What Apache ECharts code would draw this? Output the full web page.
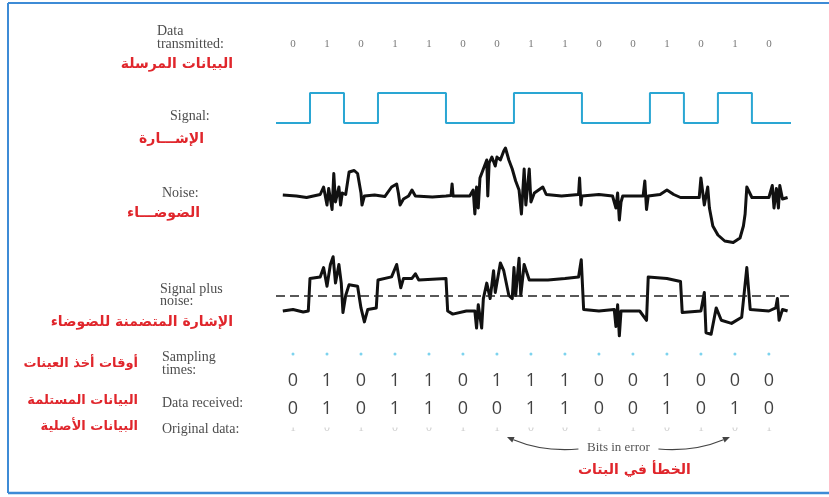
<!DOCTYPE html>
<html>
<head>
<meta charset="utf-8">
<script src="https://cdn.jsdelivr.net/npm/echarts@6/dist/echarts.min.js"></script>
<style>
html, body { margin: 0; padding: 0; background: #fff; }
#chart { width: 829px; height: 497px; }
</style>
</head>
<body>
<div id="chart"></div>
<script>
// bit rows
const bitsTransmitted = [0, 1, 0, 1, 1, 0, 0, 1, 1, 0, 0, 1, 0, 1, 0];
const bitsSampled = [0, 1, 0, 1, 1, 0, 1, 1, 1, 0, 0, 1, 0, 0, 0];
const bitsReceived = [0, 1, 0, 1, 1, 0, 0, 1, 1, 0, 0, 1, 0, 1, 0];
const bitsOriginal = [1, 0, 1, 0, 0, 1, 1, 0, 0, 1, 1, 0, 1, 0, 1];

// [time in bit periods, amplitude in signal units]
const noise = [
  [0.2, 0.03], [0.6, 0.0], [0.9, -0.05], [1.1, 0.0], [1.3, 0.05], [1.4, 0.3], [1.5, -0.3], [1.55, 0.25],
  [1.65, -0.45], [1.7, 0.75], [1.75, -0.2], [1.85, 0.3], [1.9, -0.3], [1.95, 0.1], [2.05, 0.05], [2.15, 0.8],
  [2.3, 0.85], [2.4, 0.75], [2.5, 0.1], [2.53, -0.3], [2.6, 0.0], [2.9, 0.03], [3.2, -0.02], [3.4, 0.3],
  [3.55, 0.4], [3.6, 0.1], [3.65, -0.3], [3.75, -0.1], [3.9, 0.0], [4.0, 0.2], [4.1, 0.0], [4.6, -0.03],
  [5.0, 0.0], [5.15, 0.02], [5.18, 0.4], [5.21, 0.0], [5.7, 0.0], [5.8, 0.2], [5.85, -0.6], [5.9, 0.3],
  [5.95, -0.4], [6.0, 0.6], [6.1, 0.9], [6.2, 1.2], [6.23, 0.0], [6.27, 1.1], [6.35, 1.3], [6.45, 1.0],
  [6.5, 1.3], [6.6, 1.2], [6.7, 1.5], [6.75, 1.6], [6.85, 1.2], [6.95, 0.9], [7.05, 0.5], [7.15, 0.2],
  [7.22, -0.6], [7.3, 0.9], [7.35, -0.3], [7.45, 0.9], [7.5, -0.2], [7.6, 0.1], [7.85, 0.3], [7.95, 0.05],
  [8.4, 0.0], [8.9, 0.05], [8.93, 0.6], [8.97, -0.3], [9.0, 0.0], [9.5, 0.05], [9.9, 0.0], [10.0, -0.4],
  [10.05, 0.1], [10.1, -0.8], [10.15, -0.2], [10.2, 0.0], [10.8, 0.0], [10.85, 0.5], [10.9, -0.45], [10.95, 0.0],
  [11.3, 0.05], [11.5, 0.2], [11.7, 0.05], [11.9, -0.05], [12.45, -0.05], [12.5, 0.6], [12.6, -0.3], [12.7, 0.3],
  [12.75, -0.4], [12.85, -1.0], [13.0, -1.3], [13.2, -1.5], [13.45, -1.55], [13.65, -1.4], [13.75, -1.0], [13.8, -0.6],
  [13.85, 0.3], [14.0, -0.05], [14.5, -0.05], [14.6, 0.35], [14.65, -0.4], [14.72, 0.25], [14.78, -0.4], [14.82, 0.35],
  [14.9, -0.1], [15.05, -0.05]
];

const signalPlusNoise = [
  [0.2, 0.0], [0.5, 0.05], [0.8, -0.03], [0.95, 0.0], [1.0, 1.05], [1.3, 1.1], [1.4, 1.4], [1.5, 0.8],
  [1.6, 1.5], [1.68, 1.75], [1.75, 0.9], [1.85, 1.5], [1.92, 0.9], [1.97, -0.05], [2.05, 0.5], [2.15, 0.85],
  [2.4, 0.8], [2.5, 0.1], [2.6, -0.35], [2.7, 0.05], [2.95, 0.1], [3.0, 1.0], [3.4, 1.1], [3.55, 1.5],
  [3.6, 1.55], [3.67, 0.75], [3.75, 1.05], [4.0, 1.05], [4.1, 1.2], [4.2, 1.0], [5.0, 1.05], [5.05, 0.0],
  [5.2, -0.1], [5.6, 0.0], [5.85, 0.0], [5.9, -0.55], [5.95, 0.2], [6.05, -0.55], [6.1, 0.4], [6.2, 0.9],
  [6.3, 0.4], [6.4, 1.3], [6.45, 0.6], [6.6, 1.55], [6.7, 1.3], [6.85, 0.5], [6.95, 0.4], [7.0, 1.4],
  [7.05, 0.5], [7.15, 1.7], [7.2, 0.5], [7.3, 1.5], [7.45, 1.0], [8.0, 1.0], [8.5, 1.05], [8.9, 1.1],
  [8.98, 1.65], [9.05, 0.05], [9.5, 0.0], [9.95, 0.05], [10.0, -0.5], [10.05, 0.2], [10.1, -0.8], [10.15, 0.0],
  [10.7, 0.0], [10.9, -0.3], [10.95, 1.1], [11.5, 1.05], [11.9, 0.95], [11.95, -0.05], [12.5, 0.0], [12.6, 0.6],
  [12.65, -0.7], [12.8, -0.75], [12.95, 0.1], [13.1, -0.3], [13.4, -0.4], [13.7, -0.2], [13.85, 1.4], [13.95, 0.05],
  [14.5, 0.0], [14.7, 0.1], [14.75, 0.4], [14.8, -0.3], [14.9, 0.05], [15.05, 0.0]
];

const threshold = 0.5;
</script>
<script>
const X_MAX = 15.15;
const GRID_LEFT = 276;
const GRID_WIDTH = 515;

// one grid per strip: waveforms first, then the text/dot rows
const strips = [
  { top: 93, height: 30, min: 0, max: 1 },     // 0 signal
  { top: 136, height: 120, min: -2, max: 2 },  // 1 noise
  { top: 249, height: 93, min: -1, max: 2 },   // 2 signal + noise
  { top: 43, height: 2, min: -1, max: 1 },     // 3 data transmitted
  { top: 353, height: 2, min: -1, max: 1 },    // 4 sampling times
  { top: 380, height: 2, min: -1, max: 1 },    // 5 sampled digits
  { top: 408, height: 2, min: -1, max: 1 },    // 6 data received
  { top: 427, height: 2, min: -1, max: 1 }     // 7 original data
];

const chart = echarts.init(document.getElementById('chart'), null, { renderer: 'canvas' });

function digitRow(bits, idx, font) {
  return {
    type: 'scatter', xAxisIndex: idx, yAxisIndex: idx, silent: true,
    symbolSize: 1, itemStyle: { color: 'rgba(0,0,0,0)' },
    data: bits.map((b, i) => [i + 0.5, 0, b]),
    label: Object.assign({ show: true, position: 'inside', formatter: p => String(p.value[2]) }, font),
    z: 3
  };
}

const signalData = bitsTransmitted.map((b, i) => [i, b]);
signalData.push([X_MAX, bitsTransmitted[bitsTransmitted.length - 1]]);

chart.setOption({
  animation: false,
  backgroundColor: '#fff',
  grid: strips.map(s => ({ left: GRID_LEFT, width: GRID_WIDTH, top: s.top, height: s.height })),
  xAxis: strips.map((s, i) => ({ type: 'value', gridIndex: i, min: 0, max: X_MAX, show: false })),
  yAxis: strips.map((s, i) => ({ type: 'value', gridIndex: i, min: s.min, max: s.max, show: false })),
  series: [
    {
      type: 'line', xAxisIndex: 0, yAxisIndex: 0, step: 'end', data: signalData,
      symbol: 'none', lineStyle: { color: '#2aa6d3', width: 2 }, silent: true
    },
    {
      type: 'line', xAxisIndex: 1, yAxisIndex: 1, data: noise, symbol: 'none', clip: false,
      lineStyle: { color: '#111', width: 3, join: 'round' }, silent: true
    },
    {
      type: 'line', xAxisIndex: 2, yAxisIndex: 2, data: signalPlusNoise, symbol: 'none', clip: false,
      lineStyle: { color: '#111', width: 3, join: 'round' }, silent: true,
      markLine: {
        silent: true, symbol: 'none', label: { show: false },
        lineStyle: { color: '#222', width: 1.5, type: [9, 5] },
        data: [{ yAxis: threshold }]
      }
    },
    digitRow(bitsTransmitted, 3, { fontFamily: 'Liberation Serif', fontSize: 11, color: '#555' }),
    {
      type: 'scatter', xAxisIndex: 4, yAxisIndex: 4, silent: true, symbolSize: 3,
      itemStyle: { color: '#5cc8ea' },
      data: bitsSampled.map((b, i) => [i + 0.5, 0])
    },
    digitRow(bitsSampled, 5, { fontFamily: 'Open Sans', fontSize: 18, color: '#111' }),
    digitRow(bitsReceived, 6, { fontFamily: 'Open Sans', fontSize: 18, color: '#111' }),
    digitRow(bitsOriginal, 7, { fontFamily: 'Liberation Serif', fontSize: 12, color: '#c2c2c2' })
  ]
});

// annotations
const serif = '14px "Liberation Serif"';
const arabic = 'bold 14px "DejaVu Sans"';
const arabicSmall = 'bold 13px "DejaVu Sans"';
const red = '#e0262c';
const gray = '#4d4d4d';

function txt(text, x, y, font, fill, align) {
  return { type: 'text', x: x, y: y, z: 10, silent: true,
    style: { text: text, font: font, fill: fill, align: align || 'left', verticalAlign: 'middle' } };
}

const graphics = [
  { type: 'line', silent: true, shape: { x1: 8, y1: 3, x2: 829, y2: 3 }, style: { stroke: '#3d8bd6', lineWidth: 2 } },
  { type: 'line', silent: true, shape: { x1: 8, y1: 3, x2: 8, y2: 493 }, style: { stroke: '#3d8bd6', lineWidth: 2 } },
  { type: 'line', silent: true, shape: { x1: 8, y1: 493, x2: 829, y2: 493 }, style: { stroke: '#3d8bd6', lineWidth: 2.5 } },

  txt('Data', 157, 31, serif, gray), txt('transmitted:', 157, 44, serif, gray),
  txt('البيانات المرسلة', 233, 64, arabic, red, 'right'),
  txt('Signal:', 170, 116, serif, gray),
  txt('الإشـــارة', 204, 139, arabic, red, 'right'),
  txt('Noise:', 162, 193, serif, gray),
  txt('الضوضـــاء', 200, 213, arabic, red, 'right'),
  txt('Signal plus', 160, 289, serif, gray), txt('noise:', 160, 301, serif, gray),
  txt('الإشارة المتضمنة للضوضاء', 233, 322, arabic, red, 'right'),
  txt('Sampling', 162, 357, serif, gray), txt('times:', 162, 370, serif, gray),
  txt('أوقات أخذ العينات', 138, 364, arabicSmall, red, 'right'),
  txt('Data received:', 162, 403, serif, gray),
  txt('البيانات المستلمة', 138, 401, arabicSmall, red, 'right'),
  txt('Original data:', 162, 429, serif, gray),
  txt('البيانات الأصلية', 138, 427, arabicSmall, red, 'right'),
  // hide the upper half of the faint original-data digits
  { type: 'rect', silent: true, z: 5, shape: { x: 276, y: 419, width: 515, height: 8.5 }, style: { fill: '#fff' } }
];

// "Bits in error" arrows point at the bits where the two received rows differ
const errIdx = bitsSampled.map((b, i) => (b !== bitsReceived[i] ? i : -1)).filter(i => i >= 0);
if (errIdx.length >= 2) {
  const pL = chart.convertToPixel({ gridIndex: 7 }, [errIdx[0] + 0.5, 0]);
  const pR = chart.convertToPixel({ gridIndex: 7 }, [errIdx[errIdx.length - 1] + 0.5, 0]);
  const endL = [pL[0] + 10, 437];
  const endR = [pR[0] - 5, 437];
  const mid = (endL[0] + endR[0]) / 2;
  const textY = 448;
  graphics.push(txt('Bits in error', mid, textY, '13px "Liberation Serif"', '#555', 'center'));
  graphics.push(txt('الخطأ في البتات', mid + 16, 470, arabic, red, 'center'));

  function arrow(start, end, cp) {
    const dx = end[0] - cp[0], dy = end[1] - cp[1];
    const len = Math.sqrt(dx * dx + dy * dy);
    const ux = dx / len, uy = dy / len;
    const px = -uy, py = ux;
    const back = [end[0] - ux * 7, end[1] - uy * 7];
    return [
      { type: 'bezierCurve', silent: true, z: 10,
        shape: { x1: start[0], y1: start[1], cpx1: cp[0], cpy1: cp[1], x2: back[0], y2: back[1] },
        style: { stroke: '#444', lineWidth: 1.2, fill: null } },
      { type: 'polygon', silent: true, z: 10,
        shape: { points: [end, [back[0] + px * 3, back[1] + py * 3], [back[0] - px * 3, back[1] - py * 3]] },
        style: { fill: '#444' } }
    ];
  }
  const sL = [mid - 40, textY + 1];
  const sR = [mid + 40, textY + 1];
  graphics.push(...arrow(sL, endL, [(sL[0] + endL[0]) / 2, textY + 4]));
  graphics.push(...arrow(sR, endR, [(sR[0] + endR[0]) / 2, textY + 4]));
}

chart.setOption({ graphic: graphics });
</script>
</body>
</html>
